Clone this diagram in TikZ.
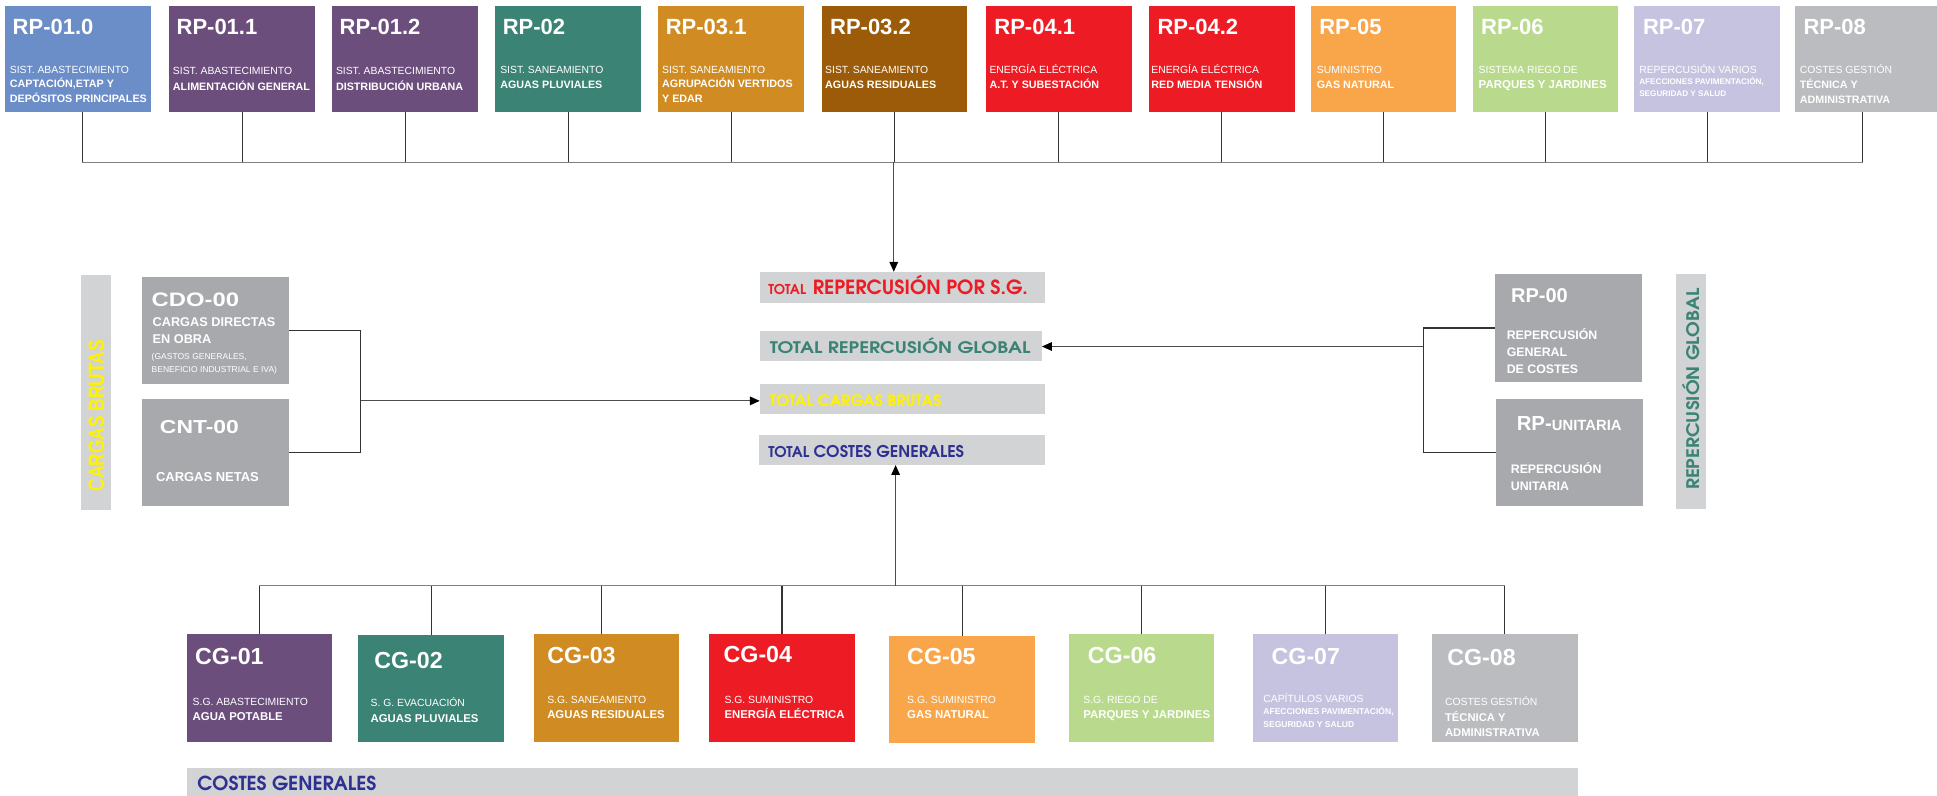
\documentclass[tikz,border=0pt]{standalone}
\usepackage{fontspec}
\setmainfont{Liberation Sans}
\newfontfamily\wideA{Liberation Sans}[FakeStretch=1.22]
\newfontfamily\adv{texgyreadventor}[Extension=.otf,UprightFont=*-regular,BoldFont=*-bold,ItalicFont=*-italic,BoldItalicFont=*-bolditalic]
\usetikzlibrary{arrows.meta}
\newcommand\fs[1]{\fontsize{#1}{#1}\selectfont}
\definecolor{cBlue}{HTML}{6B8DC8}
\definecolor{cPurp}{HTML}{6B4E7C}
\definecolor{cTeal}{HTML}{3B8374}
\definecolor{cGold}{HTML}{D08C22}
\definecolor{cBrown}{HTML}{9B5B08}
\definecolor{cRed}{HTML}{ED1C24}
\definecolor{cOrange}{HTML}{F9A64A}
\definecolor{cGreen}{HTML}{B9DA8D}
\definecolor{cLav}{HTML}{C6C3E0}
\definecolor{cGrayA}{HTML}{BBBCBF}
\definecolor{cGrayB}{HTML}{A7A9AC}
\definecolor{cLight}{HTML}{D1D3D4}
\definecolor{cNavy}{HTML}{2E3192}
\definecolor{cYel}{HTML}{FFF200}
\tikzset{
  box/.style={anchor=north west,inner sep=0pt,outer sep=0pt,minimum width=118pt,minimum height=86.5pt,draw=none},
  tl/.style={anchor=base west,inner sep=0pt,outer sep=0pt,text=white},
  ttl/.style={tl,font=\bfseries\fs{17.8}},
  cgt/.style={tl,font=\bfseries\fs{18.8}},
  sub/.style={tl,font=\fs{8.4}},
  subb/.style={tl,font=\bfseries\fs{8.7}},
  subs/.style={tl,font=\bfseries\fs{6.6}},
  stub/.style={draw=black!80,line width=0.9pt},
  bus/.style={draw=black!50,line width=0.9pt},
  arr/.style={draw=black!70,line width=0.9pt,-{Triangle[length=8pt,width=7pt,color=black]}},
}
\begin{document}
\begin{tikzpicture}[x=1pt,y=-1pt]
\useasboundingbox (0,0) rectangle (1568,644);
% ---------- top row ----------
\node[box,fill=cBlue] (b1) at (4,4.5) {};
\node[ttl] (b1t) at (10.3,28) {RP-01.0};
\node[sub] (b1a) at (8,59.4) {SIST. ABASTECIMIENTO};
\node[subb] (b1b) at (8,71) {CAPTACIÓN,ETAP Y};
\node[subb] (b1c) at (8,83) {DEPÓSITOS PRINCIPALES};

\node[box,fill=cPurp] (b2) at (137,4.5) {};
\node[ttl] (b2t) at (143,28) {RP-01.1};
\node[sub] (b2a) at (140,60.7) {SIST. ABASTECIMIENTO};
\node[subb] (b2b) at (140,73) {ALIMENTACIÓN GENERAL};

\node[box,fill=cPurp] (b3) at (269,4.5) {};
\node[ttl] (b3t) at (275,28) {RP-01.2};
\node[sub] (b3a) at (272,60.7) {SIST. ABASTECIMIENTO};
\node[subb] (b3b) at (272,73) {DISTRIBUCIÓN URBANA};

\node[box,fill=cTeal] (b4) at (401,4.5) {};
\node[ttl] (b4t) at (407,28) {RP-02};
\node[sub] (b4a) at (405,59.4) {SIST. SANEAMIENTO};
\node[subb] (b4b) at (405,72) {AGUAS PLUVIALES};

\node[box,fill=cGold] (b5) at (533,4.5) {};
\node[ttl] (b5t) at (539,28) {RP-03.1};
\node[sub] (b5a) at (536,59.4) {SIST. SANEAMIENTO};
\node[subb] (b5b) at (536,71) {AGRUPACIÓN VERTIDOS};
\node[subb] (b5c) at (536,83) {Y EDAR};

\node[box,fill=cBrown] (b6) at (665,4.5) {};
\node[ttl] (b6t) at (672,28) {RP-03.2};
\node[sub] (b6a) at (668,59.4) {SIST. SANEAMIENTO};
\node[subb] (b6b) at (668,72) {AGUAS RESIDUALES};

\node[box,fill=cRed] (b7) at (798,4.5) {};
\node[ttl] (b7t) at (805,28) {RP-04.1};
\node[sub] (b7a) at (801,59.4) {ENERGÍA ELÉCTRICA};
\node[subb] (b7b) at (801,72) {A.T. Y SUBESTACIÓN};

\node[box,fill=cRed] (b8) at (930,4.5) {};
\node[ttl] (b8t) at (937,28) {RP-04.2};
\node[sub] (b8a) at (932,59.4) {ENERGÍA ELÉCTRICA};
\node[subb] (b8b) at (932,72) {RED MEDIA TENSIÓN};

\node[box,fill=cOrange] (b9) at (1061,4.5) {};
\node[ttl] (b9t) at (1068,28) {RP-05};
\node[sub] (b9a) at (1066,59.4) {SUMINISTRO};
\node[subb] (b9b) at (1066,72) {GAS NATURAL};

\node[box,fill=cGreen] (b10) at (1192,4.5) {};
\node[ttl] (b10t) at (1199,28) {RP-06};
\node[sub] (b10a) at (1197,59.4) {SISTEMA RIEGO DE};
\node[subb,font=\bfseries\fs{9.3}] (b10b) at (1197,72) {PARQUES Y JARDINES};

\node[box,fill=cLav] (b11) at (1323,4.5) {};
\node[ttl] (b11t) at (1330,28) {RP-07};
\node[sub] (b11a) at (1327,59.4) {REPERCUSIÓN VARIOS};
\node[subs] (b11b) at (1327,68.8) {AFECCIONES PAVIMENTACIÓN,};
\node[subs] (b11c) at (1327,78.3) {SEGURIDAD Y SALUD};

\node[box,fill=cGrayA,minimum width=115pt] (b12) at (1453,4.5) {};
\node[ttl] (b12t) at (1460,28) {RP-08};
\node[sub] (b12a) at (1457,59.4) {COSTES GESTIÓN};
\node[subb] (b12b) at (1457,71.5) {TÉCNICA Y};
\node[subb] (b12c) at (1457,83.7) {ADMINISTRATIVA};

% top bus
\coordinate (topbus) at (0,131.5);
\coordinate (topmid) at (723.5,131.5);
\coordinate (s1) at ([xshift=3.5pt]b1.south);
\coordinate (s12) at ([xshift=-2.5pt]b12.south);
\draw[stub] (s1) -- (s1 |- topbus);
\draw[stub] (s12) -- (s12 |- topbus);
\foreach \i in {2,...,11} { \draw[stub] (b\i.south) -- (b\i.south |- topbus); }
\draw[bus] (s1 |- topbus) -- (s12 |- topbus);

% ---------- totals ----------
\node[box,fill=cLight,minimum width=231pt,minimum height=25pt] (tot1) at (615,220) {};
\node[tl,text=cRed,font=\adv\bfseries] (tot1t) at (622,238.3) {\fs{11}TOTAL\hspace{5.5pt}\fs{15.8}REPERCUSIÓN POR S.G.};
\node[box,fill=cLight,minimum width=228.5pt,minimum height=24pt] (tot2) at (615,268) {};
\node[tl,text=cTeal,font=\adv\bfseries\fs{12.9}] (tot2t) at (623.3,286) {\scalebox{1.19}[1]{TOTAL REPERCUSIÓN GLOBAL}};
\node[box,fill=cLight,minimum width=231pt,minimum height=24pt] (tot3) at (615,311) {};
\node[tl,text=cYel,font=\adv\bfseries\fs{12.7}] (tot3t) at (623.3,329.2) {TOTAL CARGAS BRUTAS};
\node[box,fill=cLight,minimum width=231.5pt,minimum height=24.5pt] (tot4) at (614.5,352) {};
\node[tl,text=cNavy,font=\adv\bfseries] (tot4t) at (622,370.2) {\fs{12}TOTAL \fs{13.1}COSTES GENERALES};

\draw[arr] (topmid) -- (topmid |- tot1.north);

% ---------- left side ----------
\node[box,fill=cLight,minimum width=24.5pt,minimum height=190pt] (cb) at (65.5,223) {};
\node[rotate=90,text=cYel,font=\bfseries\fs{18},inner sep=0pt] (cbt) at (78,336.5) {\scalebox{0.78}[1]{CARGAS BRUTAS}};

\node[box,fill=cGrayB,minimum width=119pt,minimum height=87pt] (cdo) at (115,224) {};
\node[tl,font=\wideA\bfseries\fs{15.8}] (cdot) at (122.8,248.3) {CDO-00};
\node[tl,font=\bfseries\fs{10.3}] (cdoa) at (123.6,264.5) {CARGAS DIRECTAS};
\node[tl,font=\bfseries\fs{10.3}] (cdob) at (123.6,278) {EN OBRA};
\node[tl,font=\fs{6.9}] (cdoc) at (122.8,290.9) {(GASTOS GENERALES,};
\node[tl,font=\fs{6.9}] (cdod) at (122.8,301.4) {BENEFICIO INDUSTRIAL E IVA)};

\node[box,fill=cGrayB,minimum width=119pt,minimum height=87pt] (cnt) at (115,323) {};
\node[tl,font=\wideA\bfseries\fs{15.2}] (cntt) at (129.5,350.8) {CNT-00};
\node[tl,font=\bfseries\fs{10.5}] (cnta) at (126.3,390) {CARGAS NETAS};

\coordinate (jL) at (292,324.5);
\draw[stub] (cdo.east) -- (cdo.east -| jL) -- (cnt.east -| jL) -- (cnt.east);
\draw[arr] (jL) -- (jL -| tot3.west);

% ---------- right side ----------
\node[box,fill=cGrayB,minimum width=119pt,minimum height=87pt] (rp0) at (1210,222) {};
\node[tl,font=\bfseries\fs{16.2}] (rp0t) at (1223.2,244.7) {RP-00};
\node[tl,font=\bfseries\fs{10}] (rp0a) at (1219.7,274.7) {REPERCUSIÓN};
\node[tl,font=\bfseries\fs{10}] (rp0b) at (1219.7,288.7) {GENERAL};
\node[tl,font=\bfseries\fs{10}] (rp0c) at (1219.7,302.2) {DE COSTES};

\node[box,fill=cGrayB,minimum width=119pt,minimum height=87pt] (rpu) at (1211,323) {};
\node[tl,font=\bfseries] (rput) at (1227.8,348.6) {\fs{16.5}RP-\fs{12}UNITARIA};
\node[tl,font=\bfseries\fs{10}] (rpua) at (1223,383.2) {REPERCUSIÓN};
\node[tl,font=\bfseries\fs{10}] (rpub) at (1223,396.7) {UNITARIA};

\node[box,fill=cLight,minimum width=24pt,minimum height=190pt] (rg) at (1357,222) {};
\node[rotate=90,text=cTeal,font=\adv\bfseries\fs{14},inner sep=0pt] (rgt) at (1369,315) {\scalebox{1.09}[1]{REPERCUSIÓN GLOBAL}};

\coordinate (jR) at (1152,280.5);
\draw[stub] (rp0.west) -- (rp0.west -| jR) -- (rpu.west -| jR) -- (rpu.west);
\draw[arr] (jR) -- (jR -| tot2.east);

% ---------- bottom row ----------
\tikzset{cgbox/.style={box,minimum height=87pt}}
\node[cgbox,fill=cPurp] (cg1) at (151,513.5) {};
\node[cgt] (cg1t) at (158,538.3) {CG-01};
\node[sub] (cg1a) at (156,570.7) {S.G. ABASTECIMIENTO};
\node[subb,font=\bfseries\fs{9.2}] (cg1b) at (156,583.4) {AGUA POTABLE};

\node[cgbox,fill=cTeal] (cg2) at (290,514) {};
\node[cgt] (cg2t) at (303,541) {CG-02};
\node[sub] (cg2a) at (300,572) {S. G. EVACUACIÓN};
\node[subb,font=\bfseries\fs{9.2}] (cg2b) at (300,585) {AGUAS PLUVIALES};

\node[cgbox,fill=cGold] (cg3) at (432,513.5) {};
\node[cgt] (cg3t) at (443,537) {CG-03};
\node[sub] (cg3a) at (443,569.3) {S.G. SANEAMIENTO};
\node[subb,font=\bfseries\fs{9.2}] (cg3b) at (443,581.5) {AGUAS RESIDUALES};

\node[cgbox,fill=cRed] (cg4) at (574,513.5) {};
\node[cgt] (cg4t) at (585.8,536.5) {CG-04};
\node[sub] (cg4a) at (586.5,569.3) {S.G. SUMINISTRO};
\node[subb,font=\bfseries\fs{9.2}] (cg4b) at (586.5,581.5) {ENERGÍA ELÉCTRICA};

\node[cgbox,fill=cOrange] (cg5) at (720,514.5) {};
\node[cgt] (cg5t) at (734.4,538.3) {CG-05};
\node[sub] (cg5a) at (734.4,569.3) {S.G. SUMINISTRO};
\node[subb,font=\bfseries\fs{9.2}] (cg5b) at (734.4,581.5) {GAS NATURAL};

\node[cgbox,fill=cGreen] (cg6) at (865,513.5) {};
\node[cgt] (cg6t) at (880.7,537) {CG-06};
\node[sub] (cg6a) at (877,569.3) {S.G. RIEGO DE};
\node[subb,font=\bfseries\fs{9.2}] (cg6b) at (877,581.5) {PARQUES Y JARDINES};

\node[cgbox,fill=cLav] (cg7) at (1014,513.5) {};
\node[cgt] (cg7t) at (1029.4,537.8) {CG-07};
\node[sub] (cg7a) at (1022.7,568.8) {CAPÍTULOS VARIOS};
\node[subs,font=\bfseries\fs{6.9}] (cg7b) at (1022.7,578.5) {AFECCIONES PAVIMENTACIÓN,};
\node[subs,font=\bfseries\fs{6.9}] (cg7c) at (1022.7,589.3) {SEGURIDAD Y SALUD};

\node[cgbox,fill=cGrayA] (cg8) at (1159,513.5) {};
\node[cgt] (cg8t) at (1171.6,538.4) {CG-08};
\node[sub] (cg8a) at (1169.8,571.5) {COSTES GESTIÓN};
\node[subb,font=\bfseries\fs{9.1}] (cg8b) at (1169.8,584.2) {TÉCNICA Y};
\node[subb,font=\bfseries\fs{9.1}] (cg8c) at (1169.8,596.4) {ADMINISTRATIVA};

\coordinate (botbus) at (0,474);
\coordinate (botmid) at (725,474);
\coordinate (c3) at ([xshift=-4pt]cg3.north);
\foreach \i in {1,2,4,5,6,7,8} { \draw[stub] (cg\i.north) -- (cg\i.north |- botbus); }
\draw[stub] (c3) -- (c3 |- botbus);
\draw[bus] (cg1.north |- botbus) -- (cg8.north |- botbus);
\draw[arr] (botmid) -- (botmid |- tot4.south);

% bottom bar
\node[box,fill=cLight,minimum width=1126pt,minimum height=22pt] (bar) at (151,622) {};
\node[tl,text=cNavy,font=\adv\bfseries\fs{15.6}] (bart) at (159.7,640) {COSTES GENERALES};
\end{tikzpicture}
\end{document}
